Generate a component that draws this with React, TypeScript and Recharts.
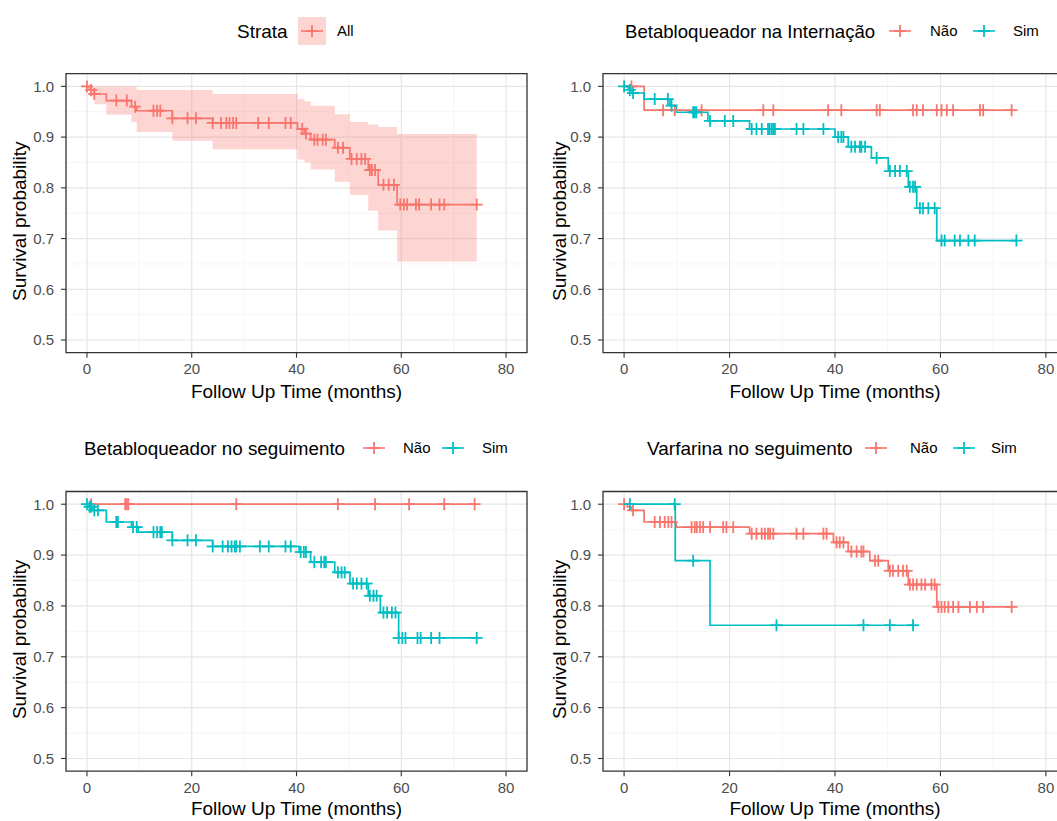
import React from 'react';
import { ComposedChart, Line, Area, XAxis, YAxis, CartesianGrid, ReferenceArea } from 'recharts';

const RED = '#F8766D';
const TEAL = '#00BFC4';
const FONT = "'Liberation Sans', Arial, Helvetica, sans-serif";

const xTicks = [0, 20, 40, 60, 80];
const xMinor = [10, 30, 50, 70];
const yTicks = [0.5, 0.6, 0.7, 0.8, 0.9, 1.0];
const yMinor = [0.55, 0.65, 0.75, 0.85, 0.95];
const xTitle = 'Follow Up Time (months)';
const yTitle = 'Survival probability';

// ---------- Panel 1: Strata All ----------
const allEventT = [0.45, 1.4, 3.7, 8.5, 9.5, 16.3, 24.0, 40.2, 41.5, 42.7, 47.3, 50.2, 53.7, 55.6, 59.2];
const allEventS = [0.993, 0.985, 0.972, 0.96, 0.952, 0.937, 0.928, 0.916, 0.907, 0.895, 0.879, 0.857, 0.835, 0.806, 0.767];
const allCensorT = [0, 0.8, 1.4, 5.6, 7.6, 9.2, 12.7, 13.4, 14.0, 16.3, 19.2, 20.8, 24.0, 25.6, 26.6, 27.2, 27.9, 28.5, 32.7, 34.7, 37.9, 38.9, 41.1, 41.8, 43.4, 44.0, 45.0, 45.6, 47.9, 48.9, 50.5, 51.5, 52.4, 53.1, 54.0, 54.4, 55.0, 56.6, 57.6, 58.6, 59.8, 60.5, 61.1, 62.8, 63.4, 65.7, 67.3, 68.2, 74.4];
const allBandT = [0, 0.45, 1.4, 3.7, 8.5, 9.5, 16.3, 24.0, 40.2, 41.5, 42.7, 47.3, 50.2, 53.7, 55.6, 59.2, 74.4];
const allBandLo = [1, 0.98, 0.965, 0.944, 0.93, 0.91, 0.893, 0.876, 0.856, 0.85, 0.836, 0.812, 0.786, 0.755, 0.716, 0.655, 0.655];
const allBandHi = [1, 1, 1, 1, 1, 0.993, 0.993, 0.985, 0.975, 0.97, 0.962, 0.945, 0.93, 0.925, 0.92, 0.906, 0.906];

// ---------- Panel 2: Betabloqueador na Internação ----------
const intNaoEventT = [3.8];
const intNaoEventS = [0.953];
const intNaoCensorT = [1.4, 7.4, 9.6, 14.7, 26.4, 28.3, 38.7, 41.2, 47.9, 48.5, 54.8, 55.5, 56.7, 59.3, 60.2, 61.2, 62.4, 67.5, 68.1, 73.5];
const intSimEventT = [0.8, 1.4, 3.8, 8.7, 9.9, 15.9, 23.8, 40.0, 42.5, 46.9, 50.1, 53.9, 55.5, 59.3];
const intSimEventS = [0.993, 0.987, 0.975, 0.962, 0.949, 0.932, 0.916, 0.9, 0.881, 0.859, 0.833, 0.802, 0.76, 0.696];
const intSimCensorT = [0, 1.1, 1.7, 5.8, 8.3, 9.0, 13.1, 13.4, 13.7, 16.3, 19.1, 20.7, 24.2, 25.1, 26.1, 27.3, 27.6, 28.0, 28.3, 28.6, 32.7, 34.0, 37.8, 40.6, 41.2, 41.6, 43.1, 43.8, 44.7, 45.0, 45.7, 47.9, 50.4, 51.4, 52.3, 53.6, 54.2, 54.8, 55.2, 56.1, 56.7, 57.7, 58.9, 60.2, 60.8, 62.7, 63.7, 65.3, 66.5, 74.4];

// ---------- Panel 3: Betabloqueador no seguimento ----------
const segNaoEventT: number[] = [];
const segNaoEventS: number[] = [];
const segNaoCensorT = [0.8, 7.3, 7.6, 7.9, 28.5, 47.9, 55.0, 61.5, 68.2, 74.0];
const segSimEventT = [0.3, 1.1, 3.7, 8.5, 9.8, 16.3, 24.0, 40.5, 42.7, 47.3, 50.2, 53.7, 56.0, 59.5];
const segSimEventS = [0.995, 0.988, 0.965, 0.955, 0.945, 0.929, 0.917, 0.906, 0.886, 0.866, 0.844, 0.82, 0.787, 0.737];
const segSimCensorT = [0, 0.5, 0.8, 1.4, 2.1, 5.6, 5.9, 8.8, 9.5, 12.7, 13.4, 14.0, 14.3, 16.3, 19.2, 20.8, 24.0, 25.9, 26.9, 27.6, 28.2, 28.5, 29.2, 33.0, 34.7, 37.9, 38.9, 40.8, 41.4, 41.8, 43.4, 44.7, 45.3, 45.6, 47.9, 48.6, 49.2, 50.8, 51.5, 52.4, 53.4, 54.0, 54.7, 55.3, 56.6, 57.3, 58.2, 58.9, 59.5, 60.2, 60.8, 63.1, 63.7, 65.7, 67.3, 74.4];

// ---------- Panel 4: Varfarina no seguimento ----------
const varNaoEventT = [0.6, 1.4, 3.8, 9.9, 23.8, 39.7, 42.5, 46.6, 50.1, 53.9, 59.3];
const varNaoEventS = [0.995, 0.988, 0.965, 0.955, 0.942, 0.925, 0.907, 0.889, 0.869, 0.842, 0.798];
const varNaoCensorT = [0, 1.7, 5.8, 6.8, 7.7, 8.4, 9.0, 12.8, 13.4, 13.8, 14.4, 15.0, 16.3, 18.8, 19.4, 20.7, 24.2, 25.1, 26.1, 26.7, 27.3, 27.7, 28.3, 32.7, 34.0, 37.8, 38.4, 40.3, 40.9, 41.6, 43.1, 44.1, 45.0, 45.4, 47.6, 48.2, 50.4, 51.0, 52.0, 52.9, 53.6, 54.2, 54.8, 55.5, 56.4, 57.1, 58.3, 58.9, 59.6, 60.2, 60.8, 61.5, 62.4, 63.4, 65.6, 66.9, 68.1, 73.5];
const varSimEventT = [9.7, 16.3];
const varSimEventS = [0.889, 0.762];
const varSimCensorT = [1.1, 9.6, 13.1, 28.9, 45.4, 50.4, 54.8];

type Pt = { t: number; s: number; c: boolean };

function buildKM(evT: number[], evS: number[], cenT: number[]): Pt[] {
  const items = [
    ...evT.map((t, i) => ({ t, s: evS[i], e: true })),
    ...cenT.map((t) => ({ t, s: NaN, e: false })),
  ].sort((a, b) => a.t - b.t || (a.e === b.e ? 0 : a.e ? -1 : 1));
  const pts: Pt[] = [{ t: 0, s: 1, c: false }];
  let cur = 1;
  for (const it of items) {
    if (it.e) cur = it.s;
    pts.push({ t: it.t, s: cur, c: !it.e });
  }
  return pts;
}

const allData = buildKM(allEventT, allEventS, allCensorT);
const allBand = allBandT.map((t, i) => ({ t, band: [allBandLo[i], allBandHi[i]] }));
const intNao = buildKM(intNaoEventT, intNaoEventS, intNaoCensorT);
const intSim = buildKM(intSimEventT, intSimEventS, intSimCensorT);
const segNao = buildKM(segNaoEventT, segNaoEventS, segNaoCensorT);
const segSim = buildKM(segSimEventT, segSimEventS, segSimCensorT);
const varNao = buildKM(varNaoEventT, varNaoEventS, varNaoCensorT);
const varSim = buildKM(varSimEventT, varSimEventS, varSimCensorT);

const plusDot = (color: string) => (props: any) => {
  const { cx, cy, payload, index } = props;
  if (!payload || !payload.c || cx == null || cy == null) return <g key={`n${index}`} />;
  const r = 6;
  return (
    <g key={`p${index}`}>
      <line x1={cx - r} x2={cx + r} y1={cy} y2={cy} stroke={color} strokeWidth={1.8} />
      <line x1={cx} x2={cx} y1={cy - r} y2={cy + r} stroke={color} strokeWidth={1.8} />
    </g>
  );
};

const xLabel = (dy: number) => (props: any) => {
  const vb = props.viewBox || {};
  return (
    <text x={vb.x + vb.width / 2} y={vb.y + dy} textAnchor="middle" fontSize={19} fill="#000" fontFamily={FONT}>
      {xTitle}
    </text>
  );
};

const yLabel = (shift: number) => (props: any) => {
  const vb = props.viewBox || {};
  const cx = vb.x + 20;
  const cy = vb.y + vb.height / 2 + shift;
  return (
    <text x={cx} y={cy} transform={`rotate(-90 ${cx} ${cy})`} textAnchor="middle" dominantBaseline="central" fontSize={19} fill="#000" fontFamily={FONT}>
      {yTitle}
    </text>
  );
};

type SeriesDef = { data: Pt[]; color: string; id: string };

function Panel(p: {
  left: number; top: number; width: number; height: number; marginTop: number;
  yAxisWidth: number; plotWidth: number; xAxisHeight: number; xTitleDy: number;
  series: SeriesDef[]; band?: any[];
}) {
  const right = p.width - p.yAxisWidth - p.plotWidth;
  return (
    <div style={{ position: 'absolute', left: p.left, top: p.top, width: p.width, height: p.height }}>
      <ComposedChart width={p.width} height={p.height} margin={{ top: p.marginTop, right, bottom: 0, left: 0 }}>
        <CartesianGrid horizontalValues={yMinor} verticalValues={xMinor} stroke="#F0F0F0" strokeWidth={0.7} />
        <CartesianGrid horizontalValues={yTicks} verticalValues={xTicks} stroke="#E6E6E6" strokeWidth={1.2} />
        <XAxis
          type="number" dataKey="t" domain={[-4, 84]} ticks={xTicks} allowDataOverflow
          height={p.xAxisHeight} tickSize={5} tickMargin={6}
          tick={{ fill: '#4D4D4D', fontSize: 15 }} tickLine={{ stroke: '#333333', strokeWidth: 1.1 }}
          axisLine={false} label={xLabel(p.xTitleDy)}
        />
        <YAxis
          type="number" domain={[0.475, 1.025]} ticks={yTicks} allowDataOverflow
          width={p.yAxisWidth} tickSize={5} tickMargin={7}
          tickFormatter={(v: number) => v.toFixed(1)}
          tick={{ fill: '#4D4D4D', fontSize: 15 }} tickLine={{ stroke: '#333333', strokeWidth: 1.1 }}
          axisLine={false} label={yLabel(8)}
        />
        {p.band && (
          <Area data={p.band} dataKey="band" type="stepAfter" fill={RED} fillOpacity={0.3} stroke="none" isAnimationActive={false} activeDot={false} />
        )}
        {p.series.map((s) => (
          <Line
            key={s.id} data={s.data} dataKey="s" type="stepAfter" stroke={s.color} strokeWidth={1.7}
            dot={plusDot(s.color)} activeDot={false} isAnimationActive={false}
          />
        ))}
        <ReferenceArea x1={-4} x2={84} y1={0.475} y2={1.025} fill="none" stroke="#333333" strokeWidth={1.3} ifOverflow="visible" />
      </ComposedChart>
    </div>
  );
}

function KeyIcon({ x, y, color, box }: { x: number; y: number; color: string; box?: boolean }) {
  return (
    <g>
      {box && <rect x={x} y={y - 14} width={28} height={28} fill={RED} fillOpacity={0.3} />}
      <line x1={x + 3} x2={x + 25} y1={y} y2={y} stroke={color} strokeWidth={1.6} />
      <line x1={x + 8} x2={x + 20} y1={y} y2={y} stroke={color} strokeWidth={1.8} />
      <line x1={x + 14} x2={x + 14} y1={y - 6} y2={y + 6} stroke={color} strokeWidth={1.8} />
    </g>
  );
}

function LegendOverlay() {
  const t = (x: number, y: number, s: string, size: number) => (
    <text x={x} y={y + size * 0.358} fontSize={size} fill="#000" fontFamily={FONT}>{s}</text>
  );
  return (
    <svg width={1057} height={821} style={{ position: 'absolute', left: 0, top: 0, pointerEvents: 'none' }}>
      {t(237, 31, 'Strata', 19)}
      <KeyIcon x={298} y={31} color={RED} box />
      {t(337, 31, 'All', 15)}

      {t(625, 31, 'Betabloqueador na Internação', 18.6)}
      <KeyIcon x={886} y={31} color={RED} />
      {t(930, 31, 'Não', 15)}
      <KeyIcon x={970} y={31} color={TEAL} />
      {t(1013, 31, 'Sim', 15)}

      {t(84, 448, 'Betabloqueador no seguimento', 18.8)}
      <KeyIcon x={360} y={448} color={RED} />
      {t(403, 448, 'Não', 15)}
      <KeyIcon x={439} y={448} color={TEAL} />
      {t(482, 448, 'Sim', 15)}

      {t(647, 448, 'Varfarina no seguimento', 19)}
      <KeyIcon x={862} y={448} color={RED} />
      {t(910, 448, 'Não', 15)}
      <KeyIcon x={950} y={448} color={TEAL} />
      {t(991, 448, 'Sim', 15)}
    </svg>
  );
}

export default function App() {
  return (
    <div style={{ position: 'absolute', left: 0, top: 0, width: 1057, height: 821, overflow: 'hidden', background: '#fff', fontFamily: FONT }}>
      <Panel left={0} top={0} width={530} height={410} marginTop={73.7} yAxisWidth={66} plotWidth={461} xAxisHeight={57.3} xTitleDy={45.5}
        series={[{ data: allData, color: RED, id: 'all' }]} band={allBand} />
      <Panel left={540} top={0} width={528} height={410} marginTop={73.7} yAxisWidth={63} plotWidth={464} xAxisHeight={57.3} xTitleDy={45.5}
        series={[{ data: intNao, color: RED, id: 'nao' }, { data: intSim, color: TEAL, id: 'sim' }]} />
      <Panel left={0} top={420} width={530} height={401} marginTop={71.5} yAxisWidth={66} plotWidth={461} xAxisHeight={49.8} xTitleDy={44}
        series={[{ data: segNao, color: RED, id: 'nao' }, { data: segSim, color: TEAL, id: 'sim' }]} />
      <Panel left={540} top={420} width={528} height={401} marginTop={71.5} yAxisWidth={63} plotWidth={464} xAxisHeight={49.8} xTitleDy={44}
        series={[{ data: varNao, color: RED, id: 'nao' }, { data: varSim, color: TEAL, id: 'sim' }]} />
      <LegendOverlay />
    </div>
  );
}
